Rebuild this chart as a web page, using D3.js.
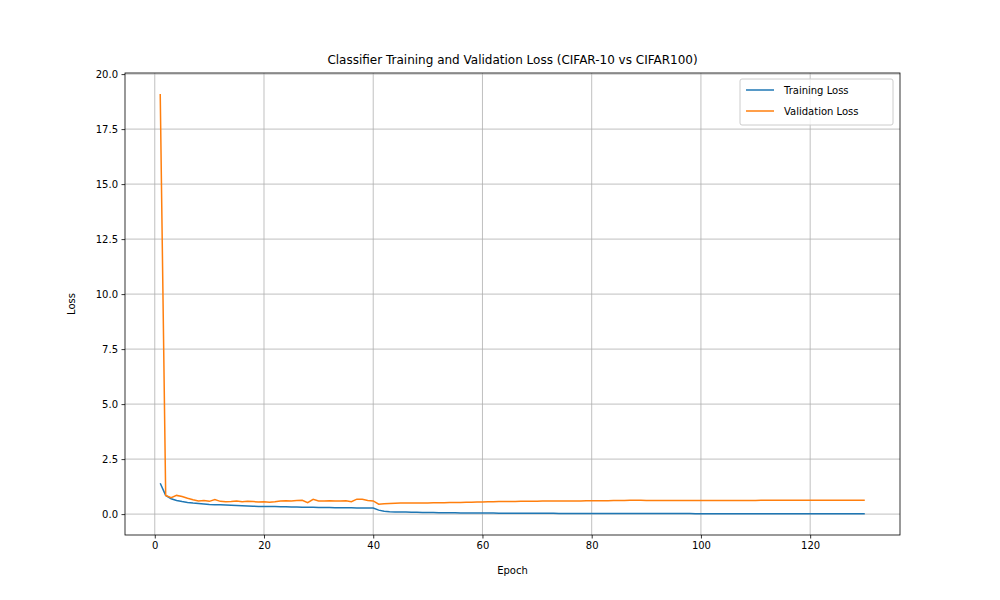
<!DOCTYPE html>
<html>
<head>
<meta charset="utf-8">
<script src="https://cdn.jsdelivr.net/npm/d3@7"></script>
<style>
body { margin: 0; background: #fff; }
text { font-family: "DejaVu Sans", sans-serif; }
</style>
</head>
<body>
<svg id="chart" width="1000" height="600"></svg>
<script>
// loss values, epochs 1..130
var trainLoss = [
  1.40,0.85,0.70,0.62,0.57,0.53,0.50,0.48,0.46,0.44,
  0.43,0.42,0.41,0.40,0.39,0.38,0.37,0.36,0.35,0.35,
  0.34,0.34,0.33,0.33,0.32,0.32,0.31,0.31,0.31,0.30,
  0.30,0.30,0.29,0.29,0.29,0.29,0.28,0.28,0.28,0.28,
  0.18,0.13,0.11,0.10,0.09,0.09,0.08,0.08,0.07,0.07,
  0.07,0.06,0.06,0.06,0.06,0.05,0.05,0.05,0.05,0.05,
  0.05,0.05,0.04,0.04,0.04,0.04,0.04,0.04,0.04,0.04,
  0.04,0.04,0.04,0.03,0.03,0.03,0.03,0.03,0.03,0.03,
  0.03,0.03,0.03,0.03,0.03,0.03,0.03,0.03,0.03,0.03,
  0.03,0.03,0.03,0.03,0.03,0.03,0.03,0.03,0.02,0.02,
  0.02,0.02,0.02,0.02,0.02,0.02,0.02,0.02,0.02,0.02,
  0.02,0.02,0.02,0.02,0.02,0.02,0.02,0.02,0.02,0.02,
  0.02,0.02,0.02,0.02,0.02,0.02,0.02,0.02,0.02,0.02
];
var valLoss = [
  19.1,0.85,0.75,0.85,0.80,0.72,0.65,0.60,0.62,0.58,
  0.66,0.58,0.56,0.57,0.60,0.56,0.58,0.57,0.55,0.56,
  0.54,0.56,0.60,0.61,0.60,0.62,0.63,0.52,0.67,0.60,
  0.60,0.61,0.60,0.60,0.61,0.56,0.68,0.67,0.62,0.60,
  0.45,0.47,0.48,0.49,0.50,0.50,0.50,0.51,0.51,0.51,
  0.52,0.52,0.52,0.53,0.53,0.53,0.54,0.54,0.55,0.55,
  0.56,0.56,0.57,0.57,0.57,0.57,0.58,0.58,0.58,0.58,
  0.59,0.59,0.59,0.59,0.60,0.60,0.60,0.60,0.61,0.61,
  0.61,0.61,0.61,0.62,0.62,0.62,0.63,0.63,0.63,0.62,
  0.62,0.62,0.62,0.62,0.62,0.62,0.62,0.62,0.62,0.62,
  0.62,0.62,0.62,0.62,0.62,0.62,0.62,0.62,0.62,0.62,
  0.63,0.63,0.63,0.63,0.63,0.63,0.63,0.63,0.63,0.63,
  0.63,0.63,0.63,0.63,0.63,0.63,0.63,0.63,0.63,0.63
];
var epochs = trainLoss.map((d, i) => i + 1);
var xTicks = [0, 20, 40, 60, 80, 100, 120];
var yTicks = [0, 2.5, 5, 7.5, 10, 12.5, 15, 17.5, 20];

var svg = d3.select("#chart");
var mLeft = 125, mRight = 900, mTop = 73, mBottom = 535;

var x = d3.scaleLinear().domain([-5.45, 136.45]).range([mLeft, mRight]);
var y = d3.scaleLinear().domain([-0.95, 20.05]).range([mBottom, mTop]);

// grid
svg.append("g").selectAll("line").data(xTicks).join("line")
  .attr("x1", d => x(d)).attr("x2", d => x(d)).attr("y1", mTop).attr("y2", mBottom)
  .attr("stroke", "#b0b0b0").attr("stroke-width", 0.8);
svg.append("g").selectAll("line").data(yTicks).join("line")
  .attr("y1", d => y(d)).attr("y2", d => y(d)).attr("x1", mLeft).attr("x2", mRight)
  .attr("stroke", "#b0b0b0").attr("stroke-width", 0.8);

var line = d3.line().x((d, i) => x(epochs[i])).y(d => y(d));
svg.append("path").datum(trainLoss).attr("d", line)
  .attr("fill", "none").attr("stroke", "#1f77b4").attr("stroke-width", 1.5);
svg.append("path").datum(valLoss).attr("d", line)
  .attr("fill", "none").attr("stroke", "#ff7f0e").attr("stroke-width", 1.5);

// axes
var xa = svg.append("g").attr("transform", `translate(0,${mBottom})`)
  .call(d3.axisBottom(x).tickValues(xTicks).tickSize(3.5).tickPadding(3.5));
var ya = svg.append("g").attr("transform", `translate(${mLeft},0)`)
  .call(d3.axisLeft(y).tickValues(yTicks).tickFormat(d3.format(".1f")).tickSize(3.5).tickPadding(3.5));
[xa, ya].forEach(a => {
  a.select(".domain").remove();
  a.selectAll("text").attr("font-size", 10).attr("fill", "#000").attr("font-family", "DejaVu Sans");
  a.selectAll("line").attr("stroke", "#000").attr("stroke-width", 0.8);
});
svg.append("rect").attr("x", mLeft).attr("y", mTop).attr("width", mRight - mLeft).attr("height", mBottom - mTop)
  .attr("fill", "none").attr("stroke", "#000").attr("stroke-width", 0.8);

svg.append("text").attr("x", (mLeft + mRight) / 2).attr("y", 64).attr("text-anchor", "middle")
  .attr("font-size", 12).text("Classifier Training and Validation Loss (CIFAR-10 vs CIFAR100)");
svg.append("text").attr("x", (mLeft + mRight) / 2).attr("y", 574).attr("text-anchor", "middle")
  .attr("font-size", 10).text("Epoch");
svg.append("text").attr("transform", `translate(75,${(mTop + mBottom) / 2}) rotate(-90)`)
  .attr("text-anchor", "middle").attr("font-size", 10).text("Loss");

// legend
var lg = svg.append("g").attr("transform", "translate(740,79)");
lg.append("rect").attr("width", 153).attr("height", 46).attr("rx", 2)
  .attr("fill", "#fff").attr("fill-opacity", 0.8).attr("stroke", "#cccccc");
[["Training Loss", "#1f77b4"], ["Validation Loss", "#ff7f0e"]].forEach((s, i) => {
  var yy = 11 + i * 21;
  lg.append("line").attr("x1", 6).attr("x2", 34).attr("y1", yy).attr("y2", yy)
    .attr("stroke", s[1]).attr("stroke-width", 1.5);
  lg.append("text").attr("x", 44).attr("y", yy + 4).attr("font-size", 10).text(s[0]);
});
</script>
</body>
</html>
